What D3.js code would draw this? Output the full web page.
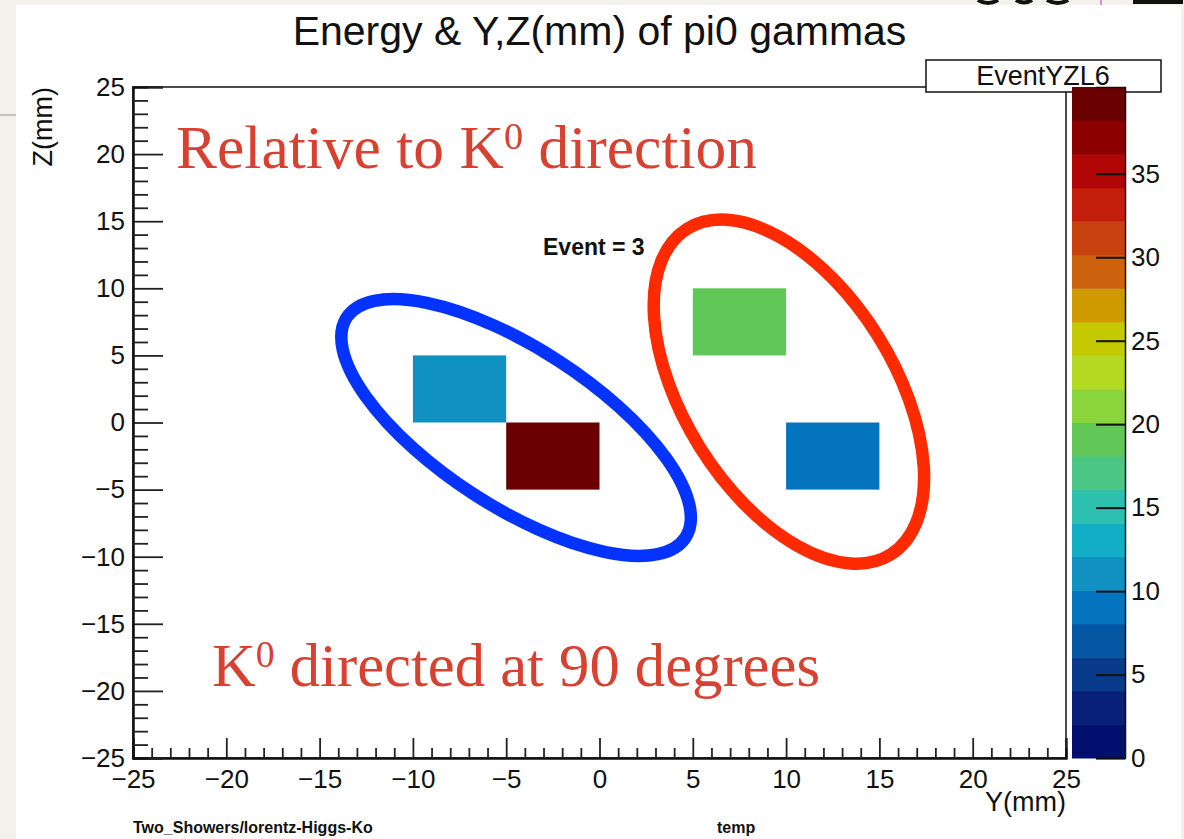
<!DOCTYPE html>
<html>
<head>
<meta charset="utf-8">
<script src="https://cdn.jsdelivr.net/npm/d3@7"></script>
<style>
  body { margin: 0; background: #f3f1ec; }
  svg { display: block; }
</style>
</head>
<body>
<svg id="chart" width="1184" height="839"></svg>
<script>
// ---- data -------------------------------------------------------------
const yRange = [-25, 25];          // Y (mm), horizontal axis
const zRange = [-25, 25];          // Z (mm), vertical axis
const binWidth = 5;                // histogram bin size (mm)
const cellY = [-7.5, -2.5, 7.5, 12.5];   // bin centres along Y
const cellZ = [2.5, -2.5, 7.5, -2.5];    // bin centres along Z
const cellE = [11.0, 40.2, 19.1, 9.3];   // deposited energy per bin
const majorTicks = [-25, -20, -15, -10, -5, 0, 5, 10, 15, 20, 25];
const paletteTicks = [0, 5, 10, 15, 20, 25, 30, 35];
const paletteColors = [
  "#030f6f", "#08207a", "#073a8a", "#0556a3", "#0474bf",
  "#1190c2", "#12aec5", "#2dc0b0", "#4cc684", "#61c858",
  "#8ad43c", "#b4d923", "#c5c902", "#cf9a00", "#cd620e",
  "#c8420f", "#c31e0c", "#b00606", "#8c0000", "#6b0000"
];
const titleText = "Energy & Y,Z(mm) of pi0 gammas";
const statName = "EventYZL6";
const eventLabel = "Event = 3";
const footLeft = "Two_Showers/lorentz-Higgs-Ko";
const footRight = "temp";
// grouping ellipses: centre (mm), semi-axes (px), tilt (deg)
const groupCY = [-4.47, 10.15];
const groupCZ = [-0.37, 2.30];
const groupRx = [202, 192];
const groupRy = [79, 105];
const groupTilt = [33, 58];
const groupColor = ["#0433ff", "#ff2a00"];

// ---- layout -----------------------------------------------------------
const svg = d3.select("#chart");
const frame = { left: 133, right: 1066, top: 87, bottom: 758 };
const x = d3.scaleLinear().domain(yRange).range([frame.left, frame.right]);
const y = d3.scaleLinear().domain(zRange).range([frame.bottom, frame.top]);
const zMax = d3.max(cellE);
const color = d3.scaleQuantize().domain([0, zMax]).range(paletteColors);
const fmt = d => d3.format("d")(d);
const SANS = "Liberation Sans, Arial, sans-serif";

// paper page behind the canvas
svg.append("rect").attr("x", 16).attr("y", 5).attr("width", 1165).attr("height", 834).attr("fill", "#ffffff");
svg.append("line").attr("x1", 0).attr("x2", 16).attr("y1", 115).attr("y2", 115)
  .attr("stroke", "#b5b3ae").attr("stroke-width", 1.5);
// fragments of the slide header peeking above the canvas
const header = svg.append("g").attr("fill", "none").attr("stroke", "#111").attr("stroke-width", 4);
header.append("path").attr("d", "M978,0 Q988,6 998,0");
header.append("path").attr("d", "M1016,0 Q1024,5 1032,0");
header.append("path").attr("d", "M1047,0 Q1058,6 1068,0");
svg.append("line").attr("x1", 1101).attr("x2", 1101).attr("y1", 0).attr("y2", 5).attr("stroke", "#d46bd4").attr("stroke-width", 1.5);
svg.append("rect").attr("x", 1133).attr("y", 0).attr("width", 50).attr("height", 4).attr("fill", "#111");

// title
svg.append("text").attr("x", (frame.left + frame.right) / 2).attr("y", 45)
  .attr("text-anchor", "middle").attr("font-family", SANS)
  .attr("font-size", 41).attr("fill", "#111").text(titleText);

// cells
svg.append("g").selectAll("rect").data(cellE).join("rect")
  .attr("x", (d, i) => x(cellY[i] - binWidth / 2))
  .attr("y", (d, i) => y(cellZ[i] + binWidth / 2))
  .attr("width", (d, i) => x(cellY[i] + binWidth / 2) - x(cellY[i] - binWidth / 2))
  .attr("height", (d, i) => y(cellZ[i] - binWidth / 2) - y(cellZ[i] + binWidth / 2))
  .attr("fill", d => color(d));

// frame
svg.append("rect").attr("x", frame.left).attr("y", frame.top)
  .attr("width", frame.right - frame.left).attr("height", frame.bottom - frame.top)
  .attr("fill", "none").attr("stroke", "#111").attr("stroke-width", 1.5);

const minorVals = d3.range(-25, 25.001, 1).filter(v => v % 5 !== 0);
const axisFont = g => g.selectAll("text").attr("font-family", SANS)
  .attr("font-size", 26).attr("fill", "#111");

// x axis
const gx = svg.append("g").attr("transform", `translate(0,${frame.bottom})`);
gx.call(d3.axisBottom(x).tickValues(majorTicks).tickSize(-20).tickPadding(12).tickFormat(fmt));
gx.append("g").call(d3.axisBottom(x).tickValues(minorVals).tickSize(-10).tickFormat(""));
gx.selectAll(".domain").attr("stroke", "#111").attr("stroke-width", 2);
gx.selectAll(".tick line").attr("stroke", "#222").attr("stroke-width", 1.8);
gx.call(axisFont);

// y axis
const gy = svg.append("g").attr("transform", `translate(${frame.left},0)`);
gy.call(d3.axisLeft(y).tickValues(majorTicks).tickSize(-30).tickPadding(8).tickFormat(fmt));
gy.append("g").call(d3.axisLeft(y).tickValues(minorVals).tickSize(-15).tickFormat(""));
gy.selectAll(".domain").attr("stroke", "#111").attr("stroke-width", 2);
gy.selectAll(".tick line").attr("stroke", "#222").attr("stroke-width", 1.8);
gy.call(axisFont);

// axis titles
svg.append("text").attr("x", frame.right).attr("y", 811).attr("text-anchor", "end")
  .attr("font-family", SANS).attr("font-size", 27).attr("fill", "#111").text("Y(mm)");
svg.append("text").attr("transform", `translate(52,${frame.top}) rotate(-90)`).attr("text-anchor", "end")
  .attr("font-family", SANS).attr("font-size", 27).attr("fill", "#111").text("Z(mm)");

// stats box
svg.append("rect").attr("x", 926).attr("y", 60).attr("width", 235).attr("height", 32)
  .attr("fill", "#fff").attr("stroke", "#111").attr("stroke-width", 1.5);
svg.append("text").attr("x", 1043).attr("y", 85).attr("text-anchor", "middle")
  .attr("font-family", SANS).attr("font-size", 27).attr("fill", "#111").text(statName);

// palette (colour bar)
const pal = { left: 1072, right: 1125 };
const yc = d3.scaleLinear().domain([0, zMax]).range([frame.bottom, frame.top]);
const step = zMax / paletteColors.length;
svg.append("g").selectAll("rect").data(paletteColors).join("rect")
  .attr("x", pal.left).attr("width", pal.right - pal.left)
  .attr("y", (d, i) => yc((i + 1) * step)).attr("height", (d, i) => yc(i * step) - yc((i + 1) * step) + 0.5)
  .attr("fill", d => d);
const gc = svg.append("g").attr("transform", `translate(${pal.right},0)`);
gc.call(d3.axisRight(yc).tickValues(paletteTicks).tickSize(-29).tickPadding(6).tickFormat(fmt));
gc.selectAll(".domain").attr("stroke", "#111").attr("stroke-width", 1.5);
gc.selectAll(".tick line").attr("stroke", "#111").attr("stroke-width", 2);
gc.call(axisFont);

// event label
svg.append("text").attr("x", 543).attr("y", 255)
  .attr("font-family", SANS).attr("font-weight", "bold")
  .attr("font-size", 23).attr("fill", "#111").text(eventLabel);

// footer
svg.append("text").attr("x", 133).attr("y", 833)
  .attr("font-family", SANS).attr("font-weight", "bold")
  .attr("font-size", 16).attr("fill", "#111").text(footLeft);
svg.append("text").attr("x", 717).attr("y", 833)
  .attr("font-family", SANS).attr("font-weight", "bold")
  .attr("font-size", 16).attr("fill", "#111").text(footRight);

// grouping ellipses
svg.append("g").selectAll("ellipse").data(groupColor).join("ellipse")
  .attr("transform", (d, i) => `translate(${x(groupCY[i])},${y(groupCZ[i])}) rotate(${groupTilt[i]})`)
  .attr("rx", (d, i) => groupRx[i]).attr("ry", (d, i) => groupRy[i])
  .attr("fill", "none").attr("stroke", d => d).attr("stroke-width", 12.5);

// annotations
function kLabel(xPos, yPos, before, after, len) {
  const t = svg.append("text").attr("x", xPos).attr("y", yPos)
    .attr("font-family", "Liberation Serif, Times New Roman, serif")
    .attr("font-size", 61).attr("fill", "#d8402f")
    .attr("textLength", len).attr("lengthAdjust", "spacingAndGlyphs");
  t.append("tspan").text(before + "K");
  t.append("tspan").attr("font-size", 38).attr("dy", -19).text("0");
  t.append("tspan").attr("dy", 19).text(after);
}
kLabel(176, 168, "Relative to ", " direction", 581);
kLabel(212, 686, "", " directed at 90 degrees", 608);
</script>
</body>
</html>
